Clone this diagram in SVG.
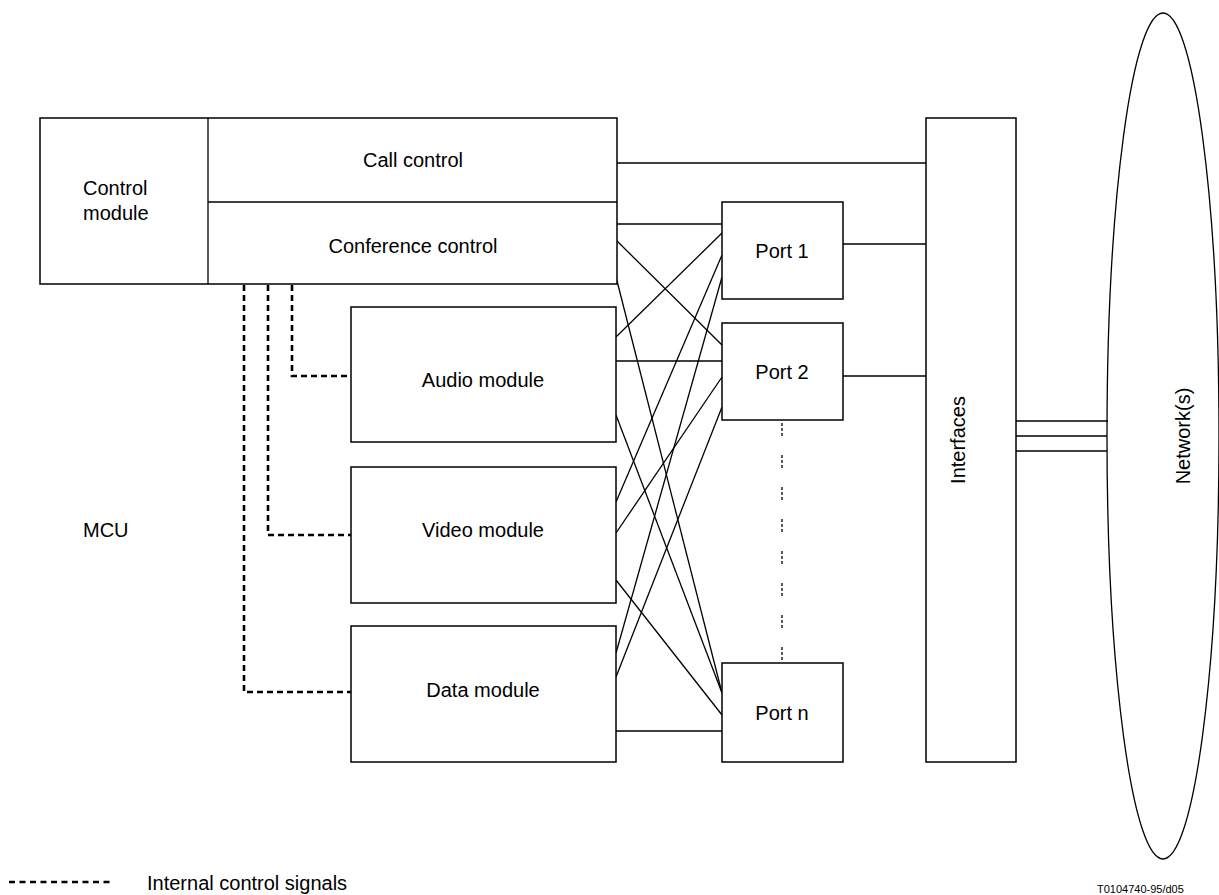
<svg xmlns="http://www.w3.org/2000/svg" width="1219" height="895" viewBox="0 0 1219 895">
<style>
.box{fill:#fff;stroke:#000;stroke-width:1.5}
.ln{fill:none;stroke:#000;stroke-width:1.3}
.ctl{fill:none;stroke:#000;stroke-width:2.6;stroke-dasharray:6 4}
.dots{fill:none;stroke:#000;stroke-width:1.3;stroke-dasharray:3 2 3 2 3 19}
text{font-family:"Liberation Sans",Arial,sans-serif;font-size:20px;fill:#000}
.c{text-anchor:middle}
</style>
<rect width="1219" height="895" fill="#fff"/>
<g id="connectors">
<line class="ln" x1="617" y1="163" x2="926" y2="163"/>
<line class="ln" x1="843" y1="244" x2="926" y2="244"/>
<line class="ln" x1="843" y1="376" x2="926" y2="376"/>
<line class="ln" x1="1016" y1="421" x2="1108" y2="421"/>
<line class="ln" x1="1016" y1="436" x2="1107" y2="436"/>
<line class="ln" x1="1016" y1="451" x2="1107" y2="451"/>
<line class="ln" x1="616" y1="224" x2="722" y2="224"/>
<line class="ln" x1="616" y1="240" x2="722" y2="345"/>
<line class="ln" x1="616" y1="277" x2="722" y2="693"/>
<line class="ln" x1="616" y1="337" x2="722" y2="233"/>
<line class="ln" x1="616" y1="361" x2="722" y2="361"/>
<line class="ln" x1="616" y1="415" x2="722" y2="693"/>
<line class="ln" x1="616" y1="502" x2="722" y2="255"/>
<line class="ln" x1="616" y1="533" x2="722" y2="377"/>
<line class="ln" x1="616" y1="580" x2="722" y2="715"/>
<line class="ln" x1="616" y1="653" x2="722" y2="277"/>
<line class="ln" x1="616" y1="677" x2="722" y2="407"/>
<line class="ln" x1="616" y1="731" x2="722" y2="731"/>
<line class="dots" x1="782" y1="423" x2="782" y2="663"/>
<polyline class="ctl" points="292,285 292,376 351,376"/>
<polyline class="ctl" points="268,285 268,535 351,535"/>
<polyline class="ctl" points="244,285 244,692 351,692"/>
</g>
<g id="control">
<rect class="box" x="40" y="118" width="577" height="166"/>
<line class="ln" x1="208" y1="118" x2="208" y2="284"/>
<line class="ln" x1="208" y1="202" x2="617" y2="202"/>
<text x="83" y="195">Control</text>
<text x="83" y="220">module</text>
</g>
<g id="call-control"><text class="c" x="413" y="167">Call control</text></g>
<g id="conference-control"><text class="c" x="413" y="253">Conference control</text></g>
<g id="audio"><rect class="box" x="351" y="307" width="265" height="135"/><text class="c" x="483" y="387">Audio module</text></g>
<g id="video"><rect class="box" x="351" y="467" width="265" height="136"/><text class="c" x="483" y="537">Video module</text></g>
<g id="data"><rect class="box" x="351" y="626" width="265" height="136"/><text class="c" x="483" y="697">Data module</text></g>
<g id="port1"><rect class="box" x="722" y="202" width="121" height="97"/><text class="c" x="782" y="258">Port 1</text></g>
<g id="port2"><rect class="box" x="722" y="323" width="121" height="97"/><text class="c" x="782" y="379">Port 2</text></g>
<g id="portn"><rect class="box" x="722" y="663" width="121" height="99"/><text class="c" x="782" y="720">Port n</text></g>
<g id="interfaces"><rect class="box" x="926" y="118" width="90" height="644"/><text class="c" transform="translate(965,440) rotate(-90)">Interfaces</text></g>
<g id="networks"><ellipse class="ln" cx="1163" cy="436" rx="56" ry="423"/><text class="c" transform="translate(1190,436) rotate(-90)">Network(s)</text></g>
<g id="mcu"><text x="83" y="537">MCU</text></g>
<g id="legend">
<line class="ctl" x1="9" y1="882" x2="110" y2="882" style="stroke-dasharray:6 4.5"/>
<text x="147" y="890">Internal control signals</text>
</g>
<g id="ref"><text x="1097" y="893" style="font-size:11px">T0104740-95/d05</text></g>
</svg>
